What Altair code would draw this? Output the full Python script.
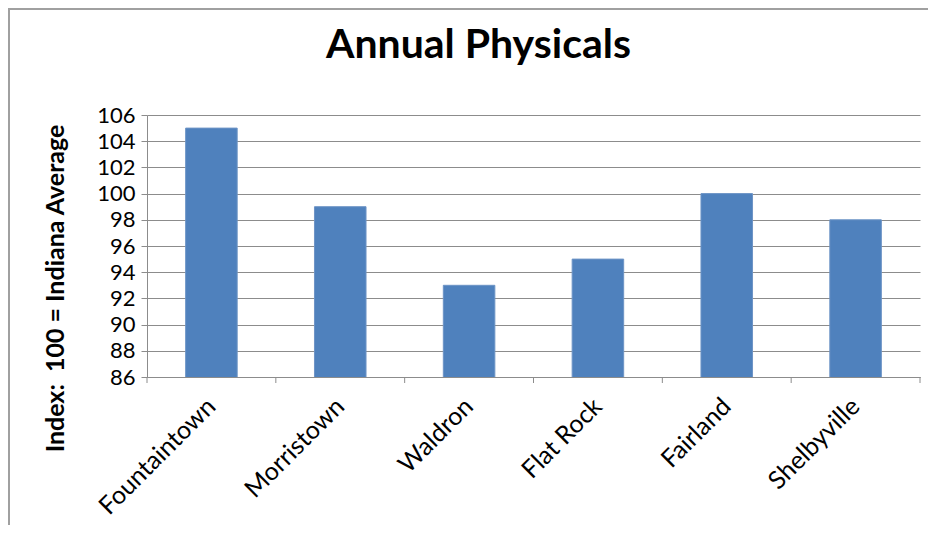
import altair as alt
import pandas as pd

towns = ["Fountaintown", "Morristown", "Waldron", "Flat Rock", "Fairland", "Shelbyville"]
index_values = [105, 99, 93, 95, 100, 98]
y_ticks = [86, 88, 90, 92, 94, 96, 98, 100, 102, 104, 106]

df = pd.DataFrame({"town": towns, "value": index_values})
last_df = df.tail(1)

FONT = "Lato"
GRID = "#8c8c8c"
W, H = 773, 262
STEP = W / len(towns)
HALF_GAP = 0.6 * STEP / 2

x_enc = alt.X(
    "town:N",
    sort=towns,
    scale=alt.Scale(paddingInner=0.6, paddingOuter=0.3),
    axis=alt.Axis(
        title=None,
        labelAngle=-45,
        labelAlign="right",
        labelBaseline="middle",
        labelFontSize=25,
        labelFont=FONT,
        labelColor="#000000",
        labelPadding=25,
        labelLimit=400,
        ticks=False,
        domainColor=GRID,
        grid=False,
    ),
)

bars = alt.Chart(df).mark_bar(color="#4F81BD", stroke="#6d94c6", strokeWidth=1, clip=True).encode(
    x=x_enc,
    y=alt.Y(
        "value:Q",
        scale=alt.Scale(domain=[86, 106], nice=False, zero=False),
        axis=alt.Axis(
            values=y_ticks,
            title="Index:\u00a0\u00a0100 = Indiana Average",
            titleFont=FONT,
            titleFontSize=25,
            titleFontWeight="bold",
            titleColor="#000000",
            titleX=-92,
            titleY=173,
            titleAngle=270,
            titleAlign="center",
            titleBaseline="middle",
            titleLimit=600,
            labelFontSize=22,
            labelFont=FONT,
            labelColor="#000000",
            labelPadding=6,
            tickSize=6,
            tickColor=GRID,
            domainColor=GRID,
            gridColor=GRID,
            gridOpacity=1,
        ),
    ),
)

# category-boundary ticks under the x axis
xticks = alt.Chart(df).mark_rule(color=GRID, xOffset=-HALF_GAP).encode(
    x=alt.X("town:N", sort=towns, bandPosition=0),
    y=alt.value(H),
    y2=alt.value(H + 6),
)
xtick_end = alt.Chart(last_df).mark_rule(color=GRID, xOffset=HALF_GAP).encode(
    x=alt.X("town:N", sort=towns, bandPosition=1),
    y=alt.value(H),
    y2=alt.value(H + 6),
)

frame_top = alt.Chart(df).mark_rule(color="#a0a0a0", strokeWidth=2).encode(
    x=alt.value(-139), x2=alt.value(800), y=alt.value(-106)
)
frame_left = alt.Chart(df).mark_rule(color="#a0a0a0", strokeWidth=2).encode(
    x=alt.value(-138), y=alt.value(-107), y2=alt.value(410)
)

chart = (
    alt.layer(bars, xticks, xtick_end, frame_top, frame_left)
    .properties(
        width=W,
        height=H,
        title=alt.TitleParams(
            "Annual Physicals",
            font=FONT,
            fontSize=41,
            fontWeight="bold",
            color="#000000",
            anchor="middle",
            baseline="alphabetic",
            dx=-55,
            dy=92,
            offset=0,
        ),
        padding={"left": 139, "top": 107, "right": 8, "bottom": 148},
        autosize=alt.AutoSizeParams(type="none"),
    )
    .configure_view(stroke=None)
    .configure_axis(grid=True)
)

chart.save("out.html", embed_options={"renderer": "svg", "actions": False})
